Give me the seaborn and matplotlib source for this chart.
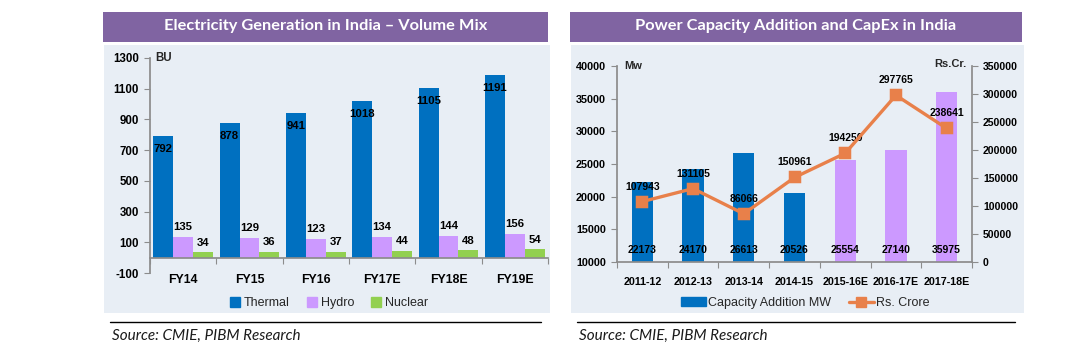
import numpy as np
import pandas as pd
import matplotlib
matplotlib.use("Agg")
import matplotlib.pyplot as plt
from matplotlib.patches import Rectangle, Patch
from matplotlib.lines import Line2D
from matplotlib.ticker import FixedLocator
import seaborn as sns

# ---- data -------------------------------------------------------------
gen_years = ["FY14", "FY15", "FY16", "FY17E", "FY18E", "FY19E"]
thermal = [792, 878, 941, 1018, 1105, 1191]
hydro = [135, 129, 123, 134, 144, 156]
nuclear = [34, 36, 37, 44, 48, 54]
gen_sources = ["Thermal", "Hydro", "Nuclear"]

cap_years = ["2011-12", "2012-13", "2013-14", "2014-15", "2015-16E", "2016-17E", "2017-18E"]
capacity_mw = [22173, 24170, 26613, 20526, 25554, 27140, 35975]
capex_crore = [107943, 131105, 86066, 150961, 194250, 297765, 238641]

left_yticks = [-100, 100, 300, 500, 700, 900, 1100, 1300]
mw_yticks = [10000, 15000, 20000, 25000, 30000, 35000, 40000]
cr_yticks = [0, 50000, 100000, 150000, 200000, 250000, 300000, 350000]

# ---- style ------------------------------------------------------------
sns.set_theme(style="white")
plt.rcParams["font.family"] = ["Liberation Sans", "DejaVu Sans"]
plt.rcParams["font.weight"] = "bold"
plt.rcParams["axes.unicode_minus"] = False

BLUE = "#0070C0"
LAVENDER = "#CC99FF"
GREEN = "#92D050"
ORANGE = "#E8804A"
BANNER = "#8064A2"
PANEL = "#E8EEF5"
AXIS = "#8C8C8C"

W, H = 1087, 348
fig = plt.figure(figsize=(W / 100, H / 100), dpi=100)


def fx(px):
    return px / W


def fy(py):
    return 1 - py / H


def box(x0, y0, x1, y1):
    return [fx(x0), fy(y1), fx(x1) - fx(x0), fy(y0) - fy(y1)]


def add_rect(x0, y0, x1, y1, color):
    fig.patches.append(Rectangle((fx(x0), fy(y1)), fx(x1) - fx(x0), fy(y0) - fy(y1),
                                 transform=fig.transFigure, facecolor=color,
                                 edgecolor="none", zorder=-5))


# panel backgrounds and title banners
add_rect(104, 45, 550, 313, PANEL)
add_rect(571, 45, 1024, 313, PANEL)
add_rect(103, 12, 548, 42, BANNER)
add_rect(570, 12, 1022, 42, BANNER)

title_kw = dict(color="white", fontsize=11.8, fontweight="bold", family=["Lato", "DejaVu Sans"],
                ha="center", va="center")
fig.text(fx(325.5), fy(26), "Electricity Generation in India \u2013 Volume Mix", **title_kw)
fig.text(fx(796), fy(26), "Power Capacity Addition and CapEx in India", **title_kw)

# source lines
fig.add_artist(Line2D([fx(110), fx(541)], [fy(322), fy(322)], color="black", lw=1.0))
fig.add_artist(Line2D([fx(577), fx(1015)], [fy(322), fy(322)], color="black", lw=1.0))
src_kw = dict(fontsize=11, style="italic", fontweight="normal", family=["Lato", "DejaVu Sans"],
              color="#1a1a1a", ha="left", va="center")
fig.text(fx(112), fy(336), "Source: CMIE, PIBM Research", **src_kw)
fig.text(fx(579), fy(336), "Source: CMIE, PIBM Research", **src_kw)

bar_kw = dict(linewidth=0, edgecolor="none", saturation=1)
legend_prop = {"family": ["Liberation Sans", "DejaVu Sans"], "weight": "normal", "size": 9}

# ---- left chart: generation mix ---------------------------------------
ax = fig.add_axes(box(150, 58, 548, 273))
ax.set_facecolor("none")
gen = pd.DataFrame({
    "year": np.repeat(gen_years, 3),
    "source": gen_sources * len(gen_years),
    "value": np.ravel(np.column_stack([thermal, hydro, nuclear])),
})
sns.barplot(data=gen, x="year", y="value", hue="source", hue_order=gen_sources,
            palette=[BLUE, LAVENDER, GREEN], width=0.9, gap=0, legend=False, ax=ax,
            zorder=2, **bar_kw)
ax.set_ylim(-100, 1300)
ax.set_xlim(-0.5, len(gen_years) - 0.5)
ax.set_xlabel("")
ax.set_ylabel("")
ax.set_yticks(left_yticks)
ax.set_xticks(range(len(gen_years)))
ax.set_xticklabels(gen_years)
ax.xaxis.set_minor_locator(FixedLocator(np.arange(-0.5, len(gen_years), 1.0)))
for s in ["top", "right"]:
    ax.spines[s].set_visible(False)
ax.spines["bottom"].set_position(("data", 0))
ax.spines["bottom"].set_color(AXIS)
ax.spines["left"].set_color(AXIS)
ax.tick_params(axis="x", which="major", length=0, pad=11.5, colors="black", labelsize=8.8)
ax.tick_params(axis="x", which="minor", length=4, direction="out", color=AXIS, width=0.8,
               bottom=True)
ax.tick_params(axis="y", length=4, direction="out", color=AXIS, width=0.8, pad=4,
               labelcolor="black", left=True, labelsize=8.3)

series_vals = [thermal, hydro, nuclear]
offsets = [-9.4, 7.0, 7.0]
for cont, vals, off in zip(ax.containers, series_vals, offsets):
    for bar, v in zip(cont, vals):
        ax.annotate(str(v), (bar.get_x() + bar.get_width() / 2, v), xytext=(0, off),
                    textcoords="offset points", ha="center", va="center",
                    fontsize=8.2, color="black")

ax.text(0.012, 1.0, "BU", transform=ax.transAxes, ha="left", va="center", fontsize=8.3)

fig.legend(handles=[Patch(color=c, label=l) for c, l in zip([BLUE, LAVENDER, GREEN], gen_sources)],
           loc="center", bbox_to_anchor=(fx(329), fy(303)), ncol=3, frameon=False,
           prop=legend_prop, handlelength=0.8, handleheight=0.8, handletextpad=0.3,
           columnspacing=1.4, borderpad=0)

# ---- right chart: capacity addition and capex ------------------------
ax1 = fig.add_axes(box(617, 66, 972, 262))
ax1.set_facecolor("none")
cap = pd.DataFrame({"year": cap_years, "mw": capacity_mw})
bar_colors = [BLUE] * 4 + [LAVENDER] * 3
sns.barplot(data=cap, x="year", y="mw", hue="year", palette=bar_colors, width=0.42,
            legend=False, ax=ax1, zorder=2, **bar_kw)
ax1.set_ylim(10000, 40000)
ax1.set_xlim(-0.5, len(cap_years) - 0.5)
ax1.set_xlabel("")
ax1.set_ylabel("")
ax1.set_yticks(mw_yticks)
ax1.set_xticks(range(len(cap_years)))
ax1.set_xticklabels(cap_years)
ax1.xaxis.set_minor_locator(FixedLocator(np.arange(-0.5, len(cap_years), 1.0)))
for s in ["top", "right"]:
    ax1.spines[s].set_visible(False)
ax1.spines["bottom"].set_color(AXIS)
ax1.spines["left"].set_color(AXIS)
ax1.tick_params(axis="x", which="major", length=0, pad=10.5, colors="black", labelsize=7.7)
ax1.tick_params(axis="x", which="minor", length=4, direction="out", color=AXIS, width=0.8,
                bottom=True)
ax1.tick_params(axis="y", length=4, direction="out", color=AXIS, width=0.8, pad=4,
                labelcolor="black", left=True, labelsize=7.8)

for bar, v in zip(ax1.patches, capacity_mw):
    ax1.annotate(str(v), (bar.get_x() + bar.get_width() / 2, 10000), xytext=(0, 8.6),
                 textcoords="offset points", ha="center", va="center",
                 fontsize=7.5, color="black")

ax2 = ax1.twinx()
ax2.set_facecolor("none")
sns.pointplot(x=list(range(len(cap_years))), y=capex_crore, native_scale=True, ax=ax2,
              color=ORANGE, markers="s", markersize=6.5, linewidth=2.4, zorder=4)
ax2.set_ylim(0, 350000)
ax2.set_xlim(-0.5, len(cap_years) - 0.5)
ax2.set_ylabel("")
ax2.set_xlabel("")
ax2.set_yticks(cr_yticks)
for s in ["top", "left", "bottom"]:
    ax2.spines[s].set_visible(False)
ax2.spines["right"].set_visible(True)
ax2.spines["right"].set_color(AXIS)
ax2.tick_params(axis="y", length=4, direction="out", color=AXIS, width=0.8, pad=4,
                labelcolor="black", right=True, left=False, labelright=True,
                labelleft=False, labelsize=7.6)
ax2.tick_params(axis="x", bottom=False, labelbottom=False)

for i, v in enumerate(capex_crore):
    ax2.annotate(str(v), (i, v), xytext=(0, 10.8), textcoords="offset points",
                 ha="center", va="center", fontsize=7.5, color="black")

ax1.text(0.02, 1.0, "Mw", transform=ax1.transAxes, ha="left", va="center", fontsize=8)
ax1.text(0.985, 1.01, "Rs.Cr.", transform=ax1.transAxes, ha="right", va="center",
         fontsize=8)

fig.legend(handles=[Patch(color=BLUE, label="Capacity Addition MW"),
                    Line2D([], [], color=ORANGE, lw=2.4, marker="s", markersize=6.5,
                           label="Rs. Crore")],
           loc="center", bbox_to_anchor=(fx(805), fy(303)), ncol=2, frameon=False,
           prop=legend_prop, handlelength=2.0, handleheight=0.7, handletextpad=0.2,
           columnspacing=1.4, borderpad=0)

fig.savefig("out.png", dpi=100)
